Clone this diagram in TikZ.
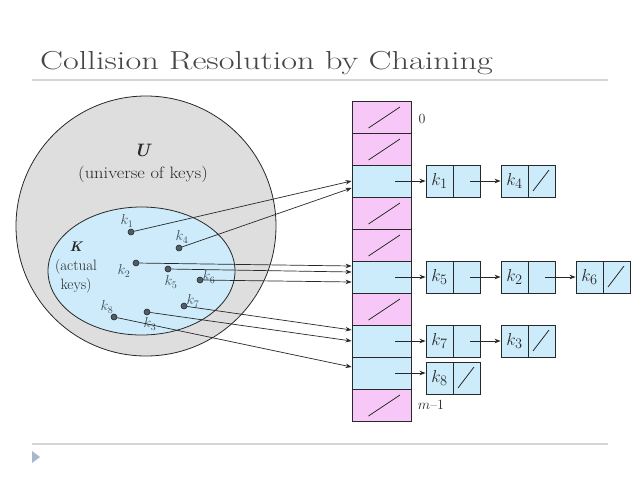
\documentclass[tikz,border=0pt]{standalone}
\usetikzlibrary{arrows.meta,calc}
\definecolor{pinkc}{RGB}{247,200,247}
\definecolor{bluec}{RGB}{204,236,252}
\definecolor{grayc}{RGB}{222,222,222}
\definecolor{ellc}{RGB}{205,235,250}
\definecolor{linec}{RGB}{40,40,40}
\definecolor{rulec}{RGB}{210,214,214}
\definecolor{tric}{RGB}{165,184,204}
\definecolor{titlec}{RGB}{70,70,70}
\definecolor{dotc}{RGB}{80,92,108}
\definecolor{klabc}{RGB}{60,74,90}
\tikzset{
  cellbox/.style={draw=linec, line width=0.9pt, minimum width=59pt, minimum height=32pt, inner sep=0pt},
  lcell/.style={draw=linec, line width=0.9pt, fill=bluec, minimum width=27pt, minimum height=32pt, inner sep=0pt, text=linec, font=\fontsize{19}{19}\selectfont},
  keydot/.style={circle, draw=linec, fill=dotc, line width=0.6pt, minimum size=6pt, inner sep=0pt},
  klab/.style={text=klabc, font=\fontsize{14.5}{14.5}\selectfont, inner sep=0pt},
  arr/.style={draw=linec, line width=0.7pt, -{Stealth[length=6pt,width=4.5pt]}},
  nullslash/.style={draw=linec, line width=0.8pt}
}
\begin{document}
\begin{tikzpicture}[x=1pt,y=-1pt]
\useasboundingbox (0,0) rectangle (640,480);
\fill[white] (0,0) rectangle (640,480);
% title and rules
\node[anchor=base west, text=titlec, font=\fontsize{26}{26}\selectfont, inner sep=0pt] (title) at (40,69.3) {\scalebox{1.32}[1]{Collision Resolution by Chaining}};
\draw[rulec, line width=2pt] (32,80) -- (608,80);
\draw[rulec, line width=2pt] (32,444) -- (608,444);
\fill[tric] (32,451) -- (40,457) -- (32,463) -- cycle;
% universe and key set
\draw[linec, fill=grayc, line width=0.8pt] (146,226) circle[radius=130];
\draw[linec, fill=ellc, line width=0.8pt] (141.5,271) ellipse[x radius=93.5, y radius=64];
\node[font=\fontsize{18}{18}\selectfont\bfseries\itshape, text=linec, inner sep=0pt] (Ulab) at (142,150) {U};
\node[font=\fontsize{16.5}{16.5}\selectfont, text=linec, inner sep=0pt] (Udesc) at (143,174) {\scalebox{1.12}[1]{(universe of keys)}};
\node[font=\fontsize{14}{14}\selectfont\bfseries\itshape, text=linec, inner sep=0pt] (Klab) at (76,247) {K};
\node[font=\fontsize{15}{15}\selectfont, text=linec, inner sep=0pt] (Kdesc1) at (76,267) {(actual};
\node[font=\fontsize{15}{15}\selectfont, text=linec, inner sep=0pt] (Kdesc2) at (76,286) {keys)};
% key dots
\node[keydot] (d1) at (131,232) {};
\node[keydot] (d4) at (179,248) {};
\node[keydot] (d2) at (136,263) {};
\node[keydot] (d5) at (168,269) {};
\node[keydot] (d6) at (200,280) {};
\node[keydot] (d7) at (184,306) {};
\node[keydot] (d3) at (147,312) {};
\node[keydot] (d8) at (114,317) {};
\node[klab] (l1) at (127,221) {$k_1$};
\node[klab] (l4) at (182,237) {$k_4$};
\node[klab] (l2) at (124,271) {$k_2$};
\node[klab] (l5) at (171,282) {$k_5$};
\node[klab] (l6) at (209,277) {$k_6$};
\node[klab] (l7) at (193,301) {$k_7$};
\node[klab] (l3) at (150,324) {$k_3$};
\node[klab] (l8) at (107,307) {$k_8$};
% table
\foreach \i/\c in {0/pinkc,1/pinkc,2/bluec,3/pinkc,4/pinkc,5/bluec,6/pinkc,7/bluec,8/bluec,9/pinkc}{
  \node[cellbox, fill=\c] (r\i) at (381.5,{117+32*\i}) {};
}
\foreach \i in {0,1,3,4,6,9}{
  \draw[nullslash] ($(r\i.center)+(-13,11)$) -- ($(r\i.center)+(18.5,-10)$);
}
\node[font=\fontsize{14}{14}\selectfont, text=linec, inner sep=0pt] (zero) at (422,119) {0};
\node[font=\fontsize{14}{14}\selectfont, text=linec, inner sep=0pt] (mlab) at (431,405) {$m$--1};
% lists
\node[lcell] (n1) at (439.5,181) {$k_1$};
\node[lcell] (p1) at (466.5,181) {};
\node[lcell] (n4) at (514.5,181) {$k_4$};
\node[lcell] (p4) at (541.5,181) {};
\node[lcell] (n5) at (439.5,277) {$k_5$};
\node[lcell] (p5) at (466.5,277) {};
\node[lcell] (n2) at (514.5,277) {$k_2$};
\node[lcell] (p2) at (541.5,277) {};
\node[lcell] (n6) at (589.5,277) {$k_6$};
\node[lcell] (p6) at (616.5,277) {};
\node[lcell] (n7) at (439.5,341) {$k_7$};
\node[lcell] (p7) at (466.5,341) {};
\node[lcell] (n3) at (514.5,341) {$k_3$};
\node[lcell] (p3) at (541.5,341) {};
\node[lcell] (n8) at (439.5,378) {$k_8$};
\node[lcell] (p8) at (466.5,378) {};
\foreach \p in {p4,p6,p3,p8}{
  \draw[nullslash] ($(\p.center)+(-8.5,10)$) -- ($(\p.center)+(7.5,-11)$);
}
% table to lists
\draw[arr] ($(r2.center)+(13.5,0)$) -- (n1.west);
\draw[arr] ($(r5.center)+(13.5,0)$) -- (n5.west);
\draw[arr] ($(r7.center)+(13.5,0)$) -- (n7.west);
\draw[arr] ($(r8.center)+(13.5,0)$) -- (r8.center -| n8.west);
\draw[arr] ($(p1.center)+(3.5,0)$) -- (n4.west);
\draw[arr] ($(p5.center)+(3.5,0)$) -- (n2.west);
\draw[arr] ($(p2.center)+(3.5,0)$) -- (n6.west);
\draw[arr] ($(p7.center)+(3.5,0)$) -- (n3.west);
% keys to table
\draw[arr] (d1) -- ($(r2.west)+(0,0)$);
\draw[arr] (d4) -- ($(r2.west)+(0,7)$);
\draw[arr] (d2) -- ($(r5.west)+(0,-11)$);
\draw[arr] (d5) -- ($(r5.west)+(0,-5)$);
\draw[arr] (d6) -- ($(r5.west)+(0,5)$);
\draw[arr] (d7) -- ($(r7.west)+(0,-11)$);
\draw[arr] (d3) -- ($(r7.west)+(0,0)$);
\draw[arr] (d8) -- ($(r8.west)+(0,-6)$);
\end{tikzpicture}
\end{document}
